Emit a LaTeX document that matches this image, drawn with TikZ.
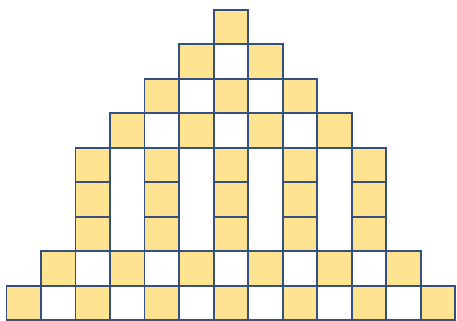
\documentclass[tikz,border=0pt]{standalone}
\usepackage{tikz}
\definecolor{tileyellow}{HTML}{FFE391}
\definecolor{tileblue}{HTML}{34507F}

\begin{document}
\begin{tikzpicture}[
    x=1cm,
    y=1cm,
    tile/.style={draw=tileblue, line width=1.4pt, fill=tileyellow},
    gap/.style={draw=tileblue, line width=1.4pt, fill=white}
  ]
    \useasboundingbox (-0.19,-9.01) rectangle (13.05,0.28);

    % white cells with a border
    \foreach \r/\cs in {2/{6}, 3/{5,7}, 4/{4,6,8}, 8/{2,4,6,8,10}, 9/{1,3,5,7,9,11}}
      \foreach \c in \cs \draw[gap] (\c,-\r) rectangle ++(1,1);

    % yellow cells
    \foreach \r/\cs in {1/{6}, 2/{5,7}, 3/{4,6,8}, 4/{3,5,7,9},
                        5/{2,4,6,8,10}, 6/{2,4,6,8,10}, 7/{2,4,6,8,10},
                        8/{1,3,5,7,9,11}, 9/{0,2,4,6,8,10,12}}
      \foreach \c in \cs \draw[tile] (\c,-\r) rectangle ++(1,1);
  \end{tikzpicture}
\end{document}
